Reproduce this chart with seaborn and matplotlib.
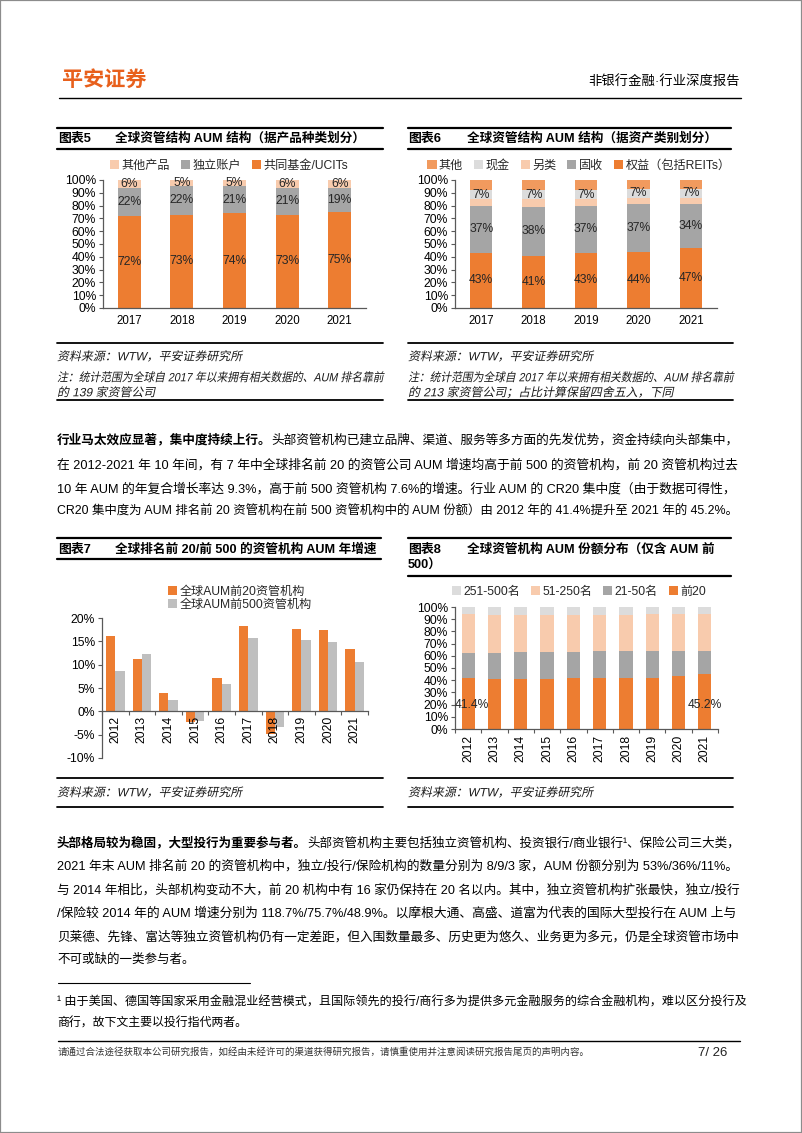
import matplotlib
matplotlib.use("Agg")
import matplotlib.pyplot as plt
import seaborn as sns
import pandas as pd
from matplotlib.lines import Line2D
from matplotlib.patches import Patch, Rectangle, PathPatch
from matplotlib.textpath import TextPath
from matplotlib.font_manager import FontProperties
from matplotlib.transforms import Affine2D

W, H = 802, 1133
FAM = ["Liberation Sans", "Noto Sans CJK SC"]

ORANGE = "#ED7D31"
MID_ORANGE = "#F19A5E"
PEACH = "#F8CBAD"
GRAY = "#A5A5A5"
LIGHT_GRAY = "#BFBFBF"
PALE_GRAY = "#DCDCDC"
LOGO = "#E8601C"

# ---- chart 5: AUM by product type (%)
years5 = ["2017", "2018", "2019", "2020", "2021"]
mutual_funds = [72, 73, 74, 73, 75]
separate_accounts = [22, 22, 21, 21, 19]
other_products = [6, 5, 5, 6, 6]

# ---- chart 6: AUM by asset class (%)
equity = [43, 41, 43, 44, 47]
fixed_income = [37, 38, 37, 37, 34]
alternatives = [5, 6, 5, 5, 5]
cash = [7, 7, 7, 7, 7]
other_assets = [8, 8, 8, 7, 7]

# ---- chart 7: AUM growth, top 20 vs top 500 (%)
years = ["2012", "2013", "2014", "2015", "2016", "2017", "2018", "2019", "2020", "2021"]
top20_growth = [16.2, 11.3, 3.9, -2.3, 7.2, 18.3, -4.8, 17.7, 17.5, 13.3]
top500_growth = [8.7, 12.3, 2.5, -2.1, 5.8, 15.8, -3.4, 15.2, 14.9, 10.5]

# ---- chart 8: share of top 500 AUM by rank band (%)
top20_share = [41.4, 40.9, 40.9, 40.8, 41.6, 42.2, 41.6, 42.2, 43.2, 45.2]
rank21_50 = [21.3, 21.8, 22.2, 22.3, 21.8, 22.0, 22.3, 21.6, 20.8, 18.6]
rank51_250 = [31.3, 30.7, 30.3, 30.3, 30.0, 29.2, 29.5, 30.2, 30.0, 30.2]
rank251_500 = [6.0, 6.6, 6.6, 6.6, 6.6, 6.6, 6.6, 6.0, 6.0, 6.0]

sns.set_theme(style="white")
plt.rcParams["font.family"] = FAM
plt.rcParams["axes.unicode_minus"] = False

fig = plt.figure(figsize=(W / 100, H / 100), dpi=100)
renderer = fig.canvas.get_renderer()


def fx(x):
    return x / W


def fy(y):
    return 1 - y / H


def hline(x0, x1, y, lw=1.0, color="#000000"):
    fig.add_artist(Line2D([fx(x0), fx(x1)], [fy(y), fy(y)], lw=lw, color=color,
                          transform=fig.transFigure))


def put(x, y, s, size, bold=False, color="#000000", ha="left"):
    return fig.text(fx(x), fy(y), s, fontsize=size, fontweight="bold" if bold else "normal",
                    color=color, ha=ha, va="center", family=FAM)


def text_line(x, y, parts, size, width=None, color="#000000"):
    # parts: list of (string, bold); if width is given the line is stretched to it
    def draw(sz):
        arts, cx = [], x
        for s, bold in parts:
            t = put(cx, y, s, sz, bold, color)
            cx += t.get_window_extent(renderer).width
            arts.append(t)
        return arts, cx - x

    arts, w = draw(size)
    if width:
        for a in arts:
            a.remove()
        draw(size * width / w)


def slanted(x, y, s, size, width=None, color="#1a1a1a"):
    # italic look for mixed CJK/Latin text: glyph outlines sheared by 12 degrees
    px = size * 100 / 72
    path = TextPath((0, 0), s, size=px, prop=FontProperties(family=FAM))
    k = width / path.get_extents().x1 if width else 1.0
    tr = (Affine2D().scale(k, 1).skew_deg(12, 0).translate(x, H - y - 0.36 * px)
          .scale(1 / W, 1 / H) + fig.transFigure)
    fig.add_artist(PathPatch(path, facecolor=color, edgecolor="none", lw=0, transform=tr))


def axes_px(x0, y0, x1, y1):
    return fig.add_axes([fx(x0), fy(y1), (x1 - x0) / W, (y1 - y0) / H])


def style_axes(ax, yticks, ylabels):
    ax.set_xlabel("")
    ax.set_ylabel("")
    ax.set_yticks(yticks)
    ax.set_yticklabels(ylabels)
    ax.set_axisbelow(False)
    for s in ["top", "right"]:
        ax.spines[s].set_visible(False)
    for s in ["left", "bottom"]:
        ax.spines[s].set_color("#595959")
        ax.spines[s].set_linewidth(0.9)
    ax.tick_params(axis="y", length=3, width=0.8, color="#595959", direction="out",
                   labelsize=8.7, pad=2, left=True, labelcolor="#000000")
    ax.tick_params(axis="x", length=0, labelsize=8.3, labelcolor="#000000")


def stacked(ax, cats, layers, width):
    # layers bottom -> top; drawn as cumulative bars, tallest first
    run = [0] * len(cats)
    tops = []
    for vals, col in layers:
        run = [a + b for a, b in zip(run, vals)]
        tops.append((list(run), col))
    for vals, col in reversed(tops):
        sns.barplot(x=cats, y=vals, color=col, width=width, ax=ax, saturation=1,
                    errorbar=None, linewidth=0)


def legend_at(items, x, y, ncol, loc="center", **kw):
    handles = [Patch(facecolor=c, edgecolor="none", label=l) for l, c in items]
    fig.legend(handles=handles, loc=loc, bbox_to_anchor=(fx(x), fy(y)), ncol=ncol,
               frameon=False, prop={"family": FAM, "size": 8.7}, handlelength=0.75,
               handleheight=0.75, handletextpad=0.2, columnspacing=0.9,
               borderaxespad=0, borderpad=0, **kw)


# ---------------- page frame and header
fig.add_artist(Rectangle((0, 0), 1, 1, transform=fig.transFigure, fill=False,
                         edgecolor="#8c8c8c", lw=1.6))
put(62, 80, "平安证券", 15.2, bold=True, color=LOGO)
put(740, 81, "非银行金融·行业深度报告", 9.6, ha="right")
hline(59, 741, 98, lw=1.0)

pct10 = [f"{v}%" for v in range(0, 101, 10)]

# ---------------- chart 5
hline(57, 383, 128, lw=1.6)
hline(57, 383, 149, lw=1.6)
put(58, 139, "图表5", 9.3, bold=True)
put(115, 139, "全球资管结构 AUM 结构（据产品种类划分）", 9.1, bold=True)
legend_at([("其他产品", PEACH), ("独立账户", GRAY), ("共同基金/UCITs", ORANGE)], 229, 166, 3)

ax5 = axes_px(103, 180, 366, 308)
stacked(ax5, years5, [(mutual_funds, ORANGE), (separate_accounts, GRAY),
                      (other_products, PEACH)], 0.44)
ax5.set_ylim(0, 100)
style_axes(ax5, range(0, 101, 10), pct10)
ax5.tick_params(axis="x", pad=5)
for i in range(len(years5)):
    b = 0
    for v in [mutual_funds[i], separate_accounts[i], other_products[i]]:
        ax5.text(i, b + v / 2, f"{v}%", ha="center", va="center", fontsize=8.7,
                 color="#262626")
        b += v

hline(57, 383, 343, lw=1.3)
slanted(57, 356, "资料来源：WTW，平安证券研究所", 8.6)
slanted(57, 377, "注：统计范围为全球自 2017 年以来拥有相关数据的、AUM 排名靠前", 8.6, width=326)
slanted(57, 392, "的 139 家资管公司", 8.6)
hline(57, 383, 400, lw=1.3)

# ---------------- chart 6
hline(408, 731, 128, lw=1.6)
hline(408, 731, 149, lw=1.6)
put(408, 139, "图表6", 9.3, bold=True)
put(467, 139, "全球资管结构 AUM 结构（据资产类别划分）", 9.1, bold=True)
legend_at([("其他", MID_ORANGE), ("现金", PALE_GRAY), ("另类", PEACH), ("固收", GRAY),
           ("权益（包括REITs）", ORANGE)], 579, 166, 5)

ax6 = axes_px(455, 180, 717, 308)
stacked(ax6, years5, [(equity, ORANGE), (fixed_income, GRAY), (alternatives, PEACH),
                      (cash, PALE_GRAY), (other_assets, MID_ORANGE)], 0.43)
ax6.set_ylim(0, 100)
style_axes(ax6, range(0, 101, 10), pct10)
ax6.tick_params(axis="x", pad=5)
for i in range(len(years5)):
    ax6.text(i, equity[i] / 2, f"{equity[i]}%", ha="center", va="center", fontsize=8.7,
             color="#262626")
    ax6.text(i, equity[i] + fixed_income[i] / 2, f"{fixed_income[i]}%", ha="center",
             va="center", fontsize=8.7, color="#262626")
    c0 = equity[i] + fixed_income[i] + alternatives[i]
    ax6.text(i, c0 + cash[i] / 2, f"{cash[i]}%", ha="center", va="center", fontsize=8.7,
             color="#262626")

hline(408, 733, 343, lw=1.3)
slanted(408, 356, "资料来源：WTW，平安证券研究所", 8.6)
slanted(408, 377, "注：统计范围为全球自 2017 年以来拥有相关数据的、AUM 排名靠前", 8.6, width=325)
slanted(408, 392, "的 213 家资管公司；占比计算保留四舍五入，下同", 8.6)
hline(408, 733, 400, lw=1.3)

# ---------------- paragraph 1
BODY = 9.0
PW = 684
text_line(57, 440, [("行业马太效应显著，集中度持续上行。", True),
                    ("头部资管机构已建立品牌、渠道、服务等多方面的先发优势，资金持续向头部集中，", False)],
          BODY, width=PW)
text_line(57, 465, [("在 2012-2021 年 10 年间，有 7 年中全球排名前 20 的资管公司 AUM 增速均高于前 500 的资管机构，前 20 资管机构过去", False)],
          BODY, width=PW)
text_line(57, 489, [("10 年 AUM 的年复合增长率达 9.3%，高于前 500 资管机构 7.6%的增速。行业 AUM 的 CR20 集中度（由于数据可得性，", False)],
          BODY, width=PW)
text_line(57, 512, [("CR20 集中度为 AUM 排名前 20 资管机构在前 500 资管机构中的 AUM 份额）由 2012 年的 41.4%提升至 2021 年的 45.2%。", False)],
          BODY, width=PW)

# ---------------- chart 7
hline(57, 381, 538, lw=1.6)
hline(57, 381, 559, lw=1.6)
put(58, 550, "图表7", 9.3, bold=True)
put(115, 550, "全球排名前 20/前 500 的资管机构 AUM 年增速", 9.1, bold=True)
legend_at([("全球AUM前20资管机构", ORANGE), ("全球AUM前500资管机构", LIGHT_GRAY)],
          168, 586, 1, loc="upper left", labelspacing=0.05)

growth = pd.DataFrame({
    "year": years * 2,
    "series": ["前20"] * len(years) + ["前500"] * len(years),
    "growth": top20_growth + top500_growth,
})
ax7 = axes_px(102, 618, 368, 758)
sns.barplot(data=growth, x="year", y="growth", hue="series", palette=[ORANGE, LIGHT_GRAY],
            width=0.7, saturation=1, errorbar=None, linewidth=0, legend=False, ax=ax7)
ax7.set_ylim(-10, 20)
style_axes(ax7, range(-10, 21, 5), [f"{v}%" for v in range(-10, 21, 5)])
ax7.spines["bottom"].set_position(("data", 0))
ax7.tick_params(axis="x", rotation=90, pad=3, labelsize=8.7)
ax7.set_xticks([i - 0.5 for i in range(len(years) + 1)], minor=True)
ax7.tick_params(axis="x", which="minor", length=3, width=0.8, color="#595959", bottom=True)

hline(57, 383, 778, lw=1.3)
slanted(57, 792, "资料来源：WTW，平安证券研究所", 8.6)
hline(57, 383, 807, lw=1.3)

# ---------------- chart 8
hline(408, 731, 538, lw=1.6)
hline(408, 731, 576, lw=1.6)
put(408, 550, "图表8", 9.3, bold=True)
put(467, 550, "全球资管机构 AUM 份额分布（仅含 AUM 前", 9.1, bold=True)
put(408, 566, "500）", 9.1, bold=True)
legend_at([("251-500名", PALE_GRAY), ("51-250名", PEACH), ("21-50名", GRAY), ("前20", ORANGE)],
          579, 592, 4)

ax8 = axes_px(455, 607, 718, 729)
stacked(ax8, years, [(top20_share, ORANGE), (rank21_50, GRAY), (rank51_250, PEACH),
                     (rank251_500, PALE_GRAY)], 0.5)
ax8.set_ylim(0, 100)
style_axes(ax8, range(0, 101, 10), pct10)
ax8.tick_params(axis="x", rotation=90, pad=4, labelsize=8.7)
ax8.set_xticks([i - 0.5 for i in range(len(years) + 1)], minor=True)
ax8.tick_params(axis="x", which="minor", length=3, width=0.8, color="#595959", bottom=True)
for i in [0, len(years) - 1]:
    ax8.text(i + 0.15 if i == 0 else i, 20, f"{top20_share[i]}%", ha="center", va="center",
             fontsize=8.7, color="#262626")

hline(408, 733, 778, lw=1.3)
slanted(408, 792, "资料来源：WTW，平安证券研究所", 8.6)
hline(408, 733, 807, lw=1.3)

# ---------------- paragraph 2
text_line(57, 843, [("头部格局较为稳固，大型投行为重要参与者。", True),
                    ("头部资管机构主要包括独立资管机构、投资银行/商业银行¹、保险公司三大类，", False)],
          BODY, width=PW)
text_line(57, 866, [("2021 年末 AUM 排名前 20 的资管机构中，独立/投行/保险机构的数量分别为 8/9/3 家，AUM 份额分别为 53%/36%/11%。", False)],
          BODY, width=PW)
text_line(57, 890, [("与 2014 年相比，头部机构变动不大，前 20 机构中有 16 家仍保持在 20 名以内。其中，独立资管机构扩张最快，独立/投行", False)],
          BODY, width=PW)
text_line(57, 913, [("/保险较 2014 年的 AUM 增速分别为 118.7%/75.7%/48.9%。以摩根大通、高盛、道富为代表的国际大型投行在 AUM 上与", False)],
          BODY, width=PW)
text_line(57, 937, [("贝莱德、先锋、富达等独立资管机构仍有一定差距，但入围数量最多、历史更为悠久、业务更为多元，仍是全球资管市场中", False)],
          BODY, width=PW)
text_line(57, 960, [("不可或缺的一类参与者。", False)], BODY)

# ---------------- footnote and footer
hline(58, 250, 983, lw=0.8)
text_line(57, 1003, [("¹ 由于美国、德国等国家采用金融混业经营模式，且国际领先的投行/商行多为提供多元金融服务的综合金融机构，难以区分投行及", False)],
          8.6, width=684)
put(57, 1024, "商行，故下文主要以投行指代两者。", 8.6)
hline(58, 740, 1041, lw=1.0)
put(58, 1052, "请通过合法途径获取本公司研究报告，如经由未经许可的渠道获得研究报告，请慎重使用并注意阅读研究报告尾页的声明内容。",
    6.8, color="#333333")
put(727, 1053, "7/ 26", 9.5, ha="right", color="#222222")

fig.savefig("out.png", dpi=100)
